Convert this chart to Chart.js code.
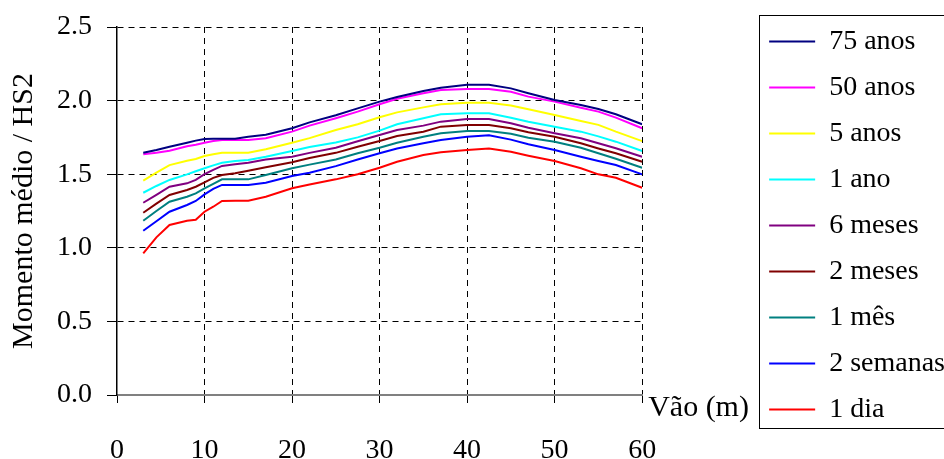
<!DOCTYPE html>
<html>
<head>
<meta charset="utf-8">
<script src="https://cdn.jsdelivr.net/npm/chart.js@4"></script>
<style>
  html, body { margin: 0; padding: 0; background: #fff; overflow: hidden; }
  #wrap { width: 955px; height: 459px; }
</style>
</head>
<body>
<div id="wrap"><canvas id="chart"></canvas></div>
<script>
// span (m)
const vao = [3, 4.5, 6, 8, 9, 10, 11, 12, 13.5, 15, 17, 20, 22, 25, 27.5, 30, 32, 35, 37, 40, 42.5, 45, 47, 50, 53, 55, 57, 60];

// mean moment / HS2, one array per return period
const anos75   = [1.646, 1.665, 1.687, 1.714, 1.728, 1.739, 1.741, 1.741, 1.741, 1.755, 1.768, 1.812, 1.852, 1.900, 1.947, 1.993, 2.025, 2.065, 2.088, 2.108, 2.108, 2.083, 2.050, 2.004, 1.970, 1.943, 1.907, 1.839];
const anos50   = [1.635, 1.645, 1.660, 1.690, 1.700, 1.714, 1.725, 1.732, 1.732, 1.732, 1.744, 1.789, 1.830, 1.880, 1.925, 1.975, 2.013, 2.050, 2.072, 2.079, 2.079, 2.060, 2.027, 1.993, 1.952, 1.925, 1.884, 1.812];
const anos5    = [1.456, 1.510, 1.562, 1.592, 1.603, 1.624, 1.635, 1.646, 1.646, 1.646, 1.669, 1.714, 1.745, 1.800, 1.839, 1.887, 1.920, 1.954, 1.975, 1.986, 1.986, 1.966, 1.941, 1.902, 1.861, 1.835, 1.789, 1.725];
const ano1     = [1.374, 1.420, 1.461, 1.499, 1.520, 1.540, 1.560, 1.578, 1.590, 1.596, 1.619, 1.658, 1.685, 1.715, 1.750, 1.796, 1.839, 1.880, 1.907, 1.914, 1.914, 1.884, 1.857, 1.823, 1.789, 1.757, 1.721, 1.658];
const meses6   = [1.306, 1.360, 1.415, 1.438, 1.461, 1.500, 1.530, 1.556, 1.567, 1.578, 1.600, 1.619, 1.645, 1.680, 1.724, 1.766, 1.800, 1.830, 1.857, 1.875, 1.875, 1.846, 1.816, 1.778, 1.744, 1.710, 1.676, 1.619];
const meses2   = [1.238, 1.300, 1.359, 1.393, 1.415, 1.445, 1.475, 1.495, 1.506, 1.524, 1.547, 1.581, 1.610, 1.645, 1.687, 1.725, 1.760, 1.789, 1.823, 1.834, 1.834, 1.812, 1.785, 1.755, 1.710, 1.675, 1.642, 1.585];
const mes1     = [1.184, 1.250, 1.313, 1.347, 1.370, 1.404, 1.435, 1.465, 1.465, 1.465, 1.495, 1.540, 1.565, 1.600, 1.642, 1.680, 1.714, 1.755, 1.778, 1.793, 1.793, 1.775, 1.748, 1.721, 1.680, 1.642, 1.605, 1.544];
const semanas2 = [1.116, 1.180, 1.245, 1.291, 1.318, 1.363, 1.400, 1.427, 1.427, 1.427, 1.442, 1.488, 1.510, 1.555, 1.600, 1.642, 1.675, 1.710, 1.732, 1.755, 1.764, 1.735, 1.703, 1.664, 1.619, 1.590, 1.562, 1.499];
const dia1     = [0.962, 1.071, 1.155, 1.184, 1.190, 1.245, 1.279, 1.318, 1.320, 1.320, 1.347, 1.404, 1.430, 1.465, 1.500, 1.544, 1.585, 1.630, 1.649, 1.664, 1.674, 1.652, 1.626, 1.590, 1.540, 1.499, 1.476, 1.408];

const seriesNames  = ['75 anos', '50 anos', '5 anos', '1 ano', '6 meses', '2 meses', '1 mês', '2 semanas', '1 dia'];
const seriesValues = [anos75, anos50, anos5, ano1, meses6, meses2, mes1, semanas2, dia1];
const seriesColors = ['#000080', '#ff00ff', '#ffff00', '#00ffff', '#800080', '#800000', '#008080', '#0000ff', '#ff0000'];

const xTicks = [0, 60, 10];   // min, max, step
const yTicks = [0, 2.5, 0.5];

const FAMILY = '"Liberation Serif", "Times New Roman", serif';
Chart.defaults.font.family = FAMILY;
Chart.defaults.font.size = 28;
Chart.defaults.color = '#000';

const TICK_FONT = { family: FAMILY, size: 28 };
const TITLE_FONT = { family: FAMILY, size: 30 };

// frame round the legend + the axis caption at the end of the x axis
const extras = {
  id: 'extras',
  afterDraw(chart) {
    const { ctx, chartArea, legend } = chart;
    const hb = legend.legendHitBoxes;
    ctx.save();
    if (hb && hb.length) {
      const last = hb[hb.length - 1];
      const top = hb[0].top - 12.5;
      const bottom = last.top + last.height + 4.5;
      ctx.strokeStyle = '#000';
      ctx.lineWidth = 1;
      ctx.strokeRect(Math.round(legend.left + 8) + 0.5, Math.round(top) + 0.5, chart.width, Math.round(bottom - top));
    }
    ctx.font = '30px ' + FAMILY;
    ctx.fillStyle = '#000';
    ctx.textBaseline = 'middle';
    ctx.textAlign = 'left';
    ctx.fillText('Vão (m)', chartArea.right + 6, chartArea.bottom + 13);
    ctx.restore();
  }
};

const gridDash = [6, 5];
// no dashed grid line on top of the axes themselves
const gridColor = c => (c.tick && c.tick.value === 0 ? 'rgba(0,0,0,0)' : '#000');

new Chart(document.getElementById('chart'), {
  type: 'line',
  data: {
    datasets: seriesNames.map((name, i) => ({
      label: name,
      data: vao.map((x, j) => ({ x, y: seriesValues[i][j] })),
      borderColor: seriesColors[i],
      backgroundColor: seriesColors[i],
      borderWidth: 2,
      pointRadius: 0,
      tension: 0,
      fill: false
    }))
  },
  options: {
    responsive: true,
    maintainAspectRatio: false,
    animation: false,
    layout: { padding: { top: -8, bottom: 0, left: 0, right: 0 } },
    plugins: {
      tooltip: { enabled: false },
      legend: {
        position: 'right',
        align: 'center',
        maxWidth: 320,
        labels: {
          font: TICK_FONT,
          color: '#000',
          usePointStyle: true,
          pointStyle: 'line',
          pointStyleWidth: 46,
          padding: 18
        }
      }
    },
    scales: {
      x: {
        type: 'linear',
        min: xTicks[0], max: xTicks[1],
        ticks: { stepSize: xTicks[2], font: TICK_FONT, padding: 31, maxRotation: 0 },
        grid: { color: gridColor, lineWidth: 1, tickLength: 8, tickColor: '#000', tickBorderDash: [] },
        border: { color: '#808080', width: 2, dash: gridDash },
        afterFit: s => { s.height = 64; }
      },
      y: {
        min: yTicks[0], max: yTicks[1],
        ticks: { stepSize: yTicks[2], font: TICK_FONT, padding: 15, callback: v => v.toFixed(1) },
        grid: { color: gridColor, lineWidth: 1, tickLength: 10, tickColor: '#000', tickBorderDash: [] },
        border: { color: '#000', width: 1.5, dash: gridDash },
        title: { display: true, text: 'Momento médio / HS2', font: TITLE_FONT, padding: { top: 6, bottom: 0 } },
        afterFit: s => { s.width = 117; s.paddingTop = 27; }
      },
      // empty spacer between plot and legend (room for "Vão (m)")
      gap: {
        type: 'linear',
        position: 'right',
        display: true,
        grid: { display: false, drawTicks: false },
        border: { display: false },
        ticks: { display: false },
        afterFit: s => { s.width = 109; }
      }
    }
  },
  plugins: [extras]
});
</script>
</body>
</html>
